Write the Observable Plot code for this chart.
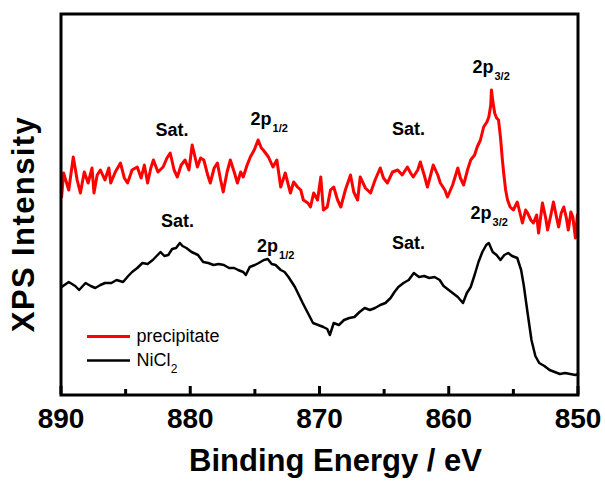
<!DOCTYPE html>
<html><head><meta charset="utf-8">
<script src="https://cdn.jsdelivr.net/npm/d3@7"></script>
<script src="https://cdn.jsdelivr.net/npm/@observablehq/plot@0.6"></script>
<style>
html,body{margin:0;padding:0;background:#fff;}
#chart svg{display:block;}
</style></head><body><div id="chart"></div>
<script>
// Binding energy (eV) and intensity (a.u.) for "precipitate" (red)
const redEnergy = [889.95,889.8,889.4,889.05,888.75,888.5,888.2,887.9,887.6,887.45,887.2,886.95,886.6,886.3,886.15,885.8,885.4,885.1,884.85,884.5,884.1,883.8,883.55,883.3,883.05,882.85,882.5,882.1,881.8,881.55,881.25,881.0,880.7,880.4,880.1,879.85,879.45,879.2,878.95,878.65,878.45,878.15,877.9,877.65,877.45,877.15,876.9,876.6,876.35,876.1,875.9,875.6,875.35,875.05,874.75,874.5,874.35,873.95,873.6,873.3,873.0,872.65,872.25,872.0,871.7,871.45,871.25,870.9,870.7,870.45,870.15,869.9,869.7,869.4,869.15,868.9,868.6,868.35,868.0,867.6,867.35,867.05,866.85,866.45,866.05,865.7,865.3,865.05,864.75,864.35,863.95,863.6,863.2,862.95,862.75,862.4,862.2,861.9,861.65,861.4,861.2,860.85,860.65,860.3,860.1,859.7,859.3,859.1,858.85,858.55,858.3,858.0,857.8,857.55,857.3,857.05,856.9,856.75,856.7,856.6,856.45,856.3,856.15,856.0,855.85,855.75,855.6,855.45,855.25,855.0,854.7,854.45,854.3,854.05,853.9,853.65,853.45,853.2,853.05,852.75,852.5,852.35,852.1,851.9,851.65,851.5,851.3,851.1,850.9,850.75,850.55,850.4,850.2,850.05];
const redIntensity = [198,222,205,238,215,202,223,212,227,202,220,225,215,227,212,223,232,217,212,225,228,217,230,212,227,235,223,228,237,242,225,218,230,235,225,250,228,237,235,220,212,227,232,215,203,223,235,223,212,223,218,230,238,245,255,247,245,238,228,235,208,222,202,213,208,205,195,192,188,202,195,218,185,188,205,208,195,188,205,220,203,195,218,207,202,215,227,217,212,223,225,220,228,222,218,225,233,220,208,220,230,220,212,205,198,210,227,217,210,225,235,240,248,255,268,273,278,290,305,295,282,277,275,258,235,222,205,195,188,185,193,180,172,185,182,175,172,180,162,192,177,165,180,193,177,168,182,188,177,165,183,178,157,180];

// Binding energy (eV) and intensity (a.u.) for "NiCl2" (black)
const blackEnergy = [889.95,889.4,888.9,888.6,888.1,887.7,887.35,886.95,886.6,886.1,885.7,885.2,884.8,884.5,884.1,883.7,883.3,882.9,882.6,882.3,882.0,881.7,881.4,881.1,880.8,880.6,880.3,879.9,879.4,879.0,878.6,878.2,877.8,877.4,877.0,876.6,876.3,875.9,875.7,875.4,875.0,874.7,874.3,874.0,873.7,873.4,873.0,872.7,872.4,871.9,871.6,871.3,870.9,870.5,870.1,869.7,869.4,869.2,868.9,868.5,868.1,867.7,867.3,866.9,866.5,866.1,865.7,865.3,864.9,864.5,864.2,863.9,863.5,863.1,862.7,862.3,861.9,861.5,861.1,860.7,860.4,860.0,859.6,859.3,858.9,858.6,858.3,858.0,857.7,857.4,857.1,856.9,856.6,856.3,856.0,855.7,855.4,855.1,854.7,854.4,854.2,853.9,853.6,853.3,853.0,852.6,852.2,851.8,851.4,851.0,850.6,850.2,850.0];
const blackIntensity = [108,113,109,105,112,109,107,110,112,112,115,113,119,123,127,132,131,135,139,143,139,140,146,147,152,149,147,143,140,133,132,130,131,130,127,127,125,123,120,128,130,132,135,136,131,130,125,123,118,108,100,92,82,72,70,68,66,60,72,70,75,77,78,83,87,85,87,90,92,97,103,108,112,115,122,118,119,117,118,115,109,105,101,98,92,102,108,120,133,143,150,152,143,140,135,140,142,139,137,125,110,82,55,39,32,29,25,23,21,22,21,20,21];

// Axis ticks
const majorTicks = [890, 880, 870, 860, 850];
const minorTicks = [885, 875, 865, 855];
const xLabel = "Binding Energy / eV";
const yLabel = "XPS Intensity";

// Peak annotations (energy, intensity position)
const satLabels = ["Sat.", "Sat.", "Sat.", "Sat."];
const satEnergy = [881.41, 880.99, 863.11, 863.11];
const satIntensity = [265, 173.5, 265.5, 152];
const peakMain = ["2p", "2p", "2p", "2p"];
const peakSub = ["1/2", "1/2", "3/2", "3/2"];
const peakEnergy = [873.71, 873.21, 856.54, 856.69];
const peakIntensity = [275.5, 149, 327.5, 182];

// Legend
const legendLabels = ["precipitate", "NiCl"];
const legendSubs = ["", "2"];
const legendColors = ["#ff0000", "#000000"];
const legendWidths = [3, 2.5];
const legendY = [58.5, 34.5];
const legendLineStart = 887.95, legendLineEnd = 884.62, legendTextX = 884.16, legendSubX = 881.5;

const red = redEnergy.map((e, i) => ({energy: e, intensity: redIntensity[i]}));
const black = blackEnergy.map((e, i) => ({energy: e, intensity: blackIntensity[i]}));
const sats = satLabels.map((t, i) => ({text: t, energy: satEnergy[i], intensity: satIntensity[i]}));
const peaks = peakMain.map((t, i) => ({text: t, sub: peakSub[i], energy: peakEnergy[i], intensity: peakIntensity[i]}));
const legend = legendLabels.map((t, i) => ({text: t, sub: legendSubs[i], color: legendColors[i], w: legendWidths[i], y: legendY[i]}));

const font = "'Liberation Sans', Arial, Helvetica, sans-serif";
const plotH = 381;

const chart = Plot.plot({
  width: 605, height: 481,
  marginLeft: 60.5, marginRight: 27.5, marginTop: 13.5, marginBottom: 86.5,
  style: {fontFamily: font, background: "#fff", color: "#000"},
  x: {domain: [890, 850]},
  y: {domain: [0, 381], axis: null},
  color: {type: "identity"},
  marks: [
    Plot.line(red, {x: "energy", y: "intensity", stroke: "#ff0000", strokeWidth: 3, strokeLinejoin: "round"}),
    Plot.line(black, {x: "energy", y: "intensity", stroke: "#000000", strokeWidth: 2.5, strokeLinejoin: "round"}),
    Plot.tickX(majorTicks, {x: d => d, insetTop: plotH - 8.5, stroke: "#000", strokeWidth: 3}),
    Plot.tickX(minorTicks, {x: d => d, insetTop: plotH - 5.5, stroke: "#000", strokeWidth: 3}),
    Plot.axisX(majorTicks, {tickSize: 0, tickPadding: 13, fontSize: 28, fontWeight: "bold", label: null, fill: "#000"}),
    Plot.text([xLabel], {frameAnchor: "bottom", dy: 76, dx: 16, fontSize: 31, fontWeight: "bold", fill: "#000"}),
    Plot.text([yLabel], {frameAnchor: "left", textAnchor: "middle", rotate: -90, dx: -37, dy: 19.5, fontSize: 31, fontWeight: "bold", fill: "#000"}),
    Plot.text(sats, {x: "energy", y: "intensity", text: "text", fontSize: 18, fontWeight: "bold", fill: "#000"}),
    Plot.text(peaks, {x: "energy", y: "intensity", text: "text", textAnchor: "end", fontSize: 18, fontWeight: "bold", fill: "#000"}),
    Plot.text(peaks, {x: "energy", y: "intensity", text: "sub", textAnchor: "start", dx: 1, dy: 9, fontSize: 11, fontWeight: "bold", fill: "#000"}),
    Plot.ruleY(legend, {y: "y", x1: legendLineStart, x2: legendLineEnd, stroke: "color", strokeWidth: "w"}),
    Plot.text(legend, {x: legendTextX, y: "y", text: "text", textAnchor: "start", fontSize: 18, fill: "#000"}),
    Plot.text(legend, {x: legendSubX, y: "y", text: "sub", textAnchor: "start", dy: 9, fontSize: 12, fill: "#000"}),
    Plot.frame({stroke: "#000", strokeWidth: 3})
  ]
});
d3.select(chart).selectAll("text").filter(function() { return this.textContent === yLabel; })
  .attr("letter-spacing", "1.4px");
document.getElementById("chart").appendChild(chart);
</script>
</body></html>
